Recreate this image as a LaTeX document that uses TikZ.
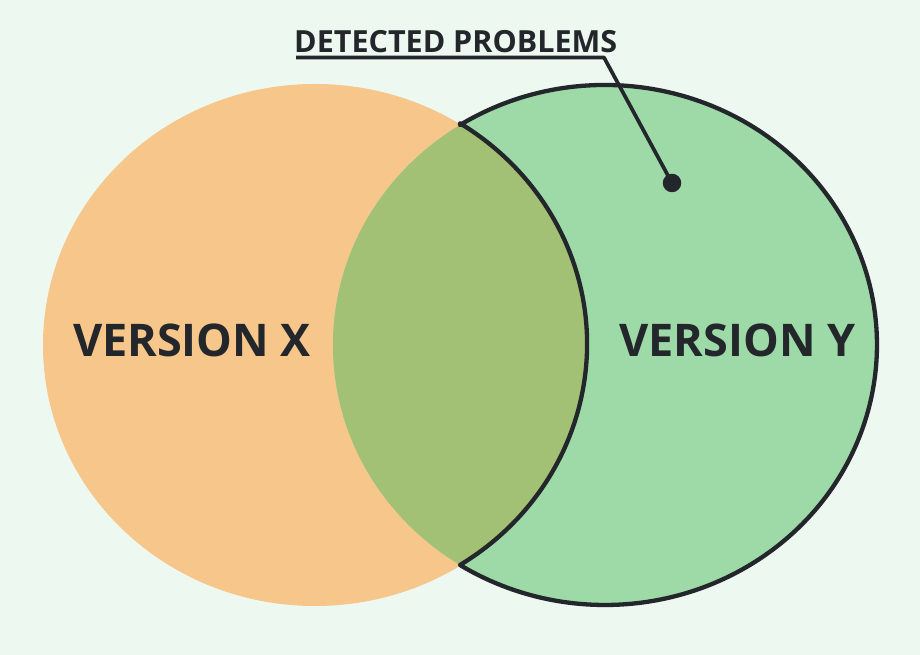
\documentclass[tikz,border=0pt]{standalone}
\usepackage{fontspec}
\setmainfont{Open Sans}
\definecolor{bgmint}{RGB}{237,248,240}
\definecolor{xorange}{RGB}{246,198,138}
\definecolor{ygreen}{RGB}{158,218,168}
\definecolor{xyboth}{RGB}{162,193,117}
\definecolor{ink}{RGB}{35,38,42}

\begin{document}
\begin{tikzpicture}[x=1pt, y=1pt,
        setlabel/.style={font=\bfseries\fontsize{45}{45}\selectfont, text=ink, anchor=base, inner sep=0pt},
        dotmark/.style={circle, fill=ink, minimum size=18.5pt, inner sep=0pt}]
        \fill[bgmint] (0, 0) rectangle (920, 655);
        \useasboundingbox (0, 0) rectangle (920, 655);

        % the two sets
        \fill[xorange] (315, 310) ellipse [x radius=272, y radius=261];
        \fill[ygreen] (605, 310) ellipse [x radius=272, y radius=260];
        \begin{scope}
            \clip (315, 310) ellipse [x radius=272, y radius=261];
            \fill[xyboth] (605, 310) ellipse [x radius=272, y radius=260];
        \end{scope}

        % Y without X
        \draw[ink, line width=4.3pt, line join=round]
            (460, 530) arc [start angle=122.2, end angle=-122.2, x radius=272, y radius=260]
            arc [start angle=-57.8, end angle=57.8, x radius=272, y radius=261] -- cycle;

        \node[setlabel] (verx) at (192, 298) {VERSION X};
        \node[setlabel] (very) at (737.5, 298) {VERSION Y};

        \node[font=\bfseries\fontsize{30.5}{30.5}\selectfont, text=ink, anchor=base west, inner sep=0pt] (title) at (294, 602) {DETECTED PROBLEMS};
        \coordinate (ustart) at (296, 597.5);
        \coordinate (uend) at (604, 597.5);
        \node[dotmark] (dot) at (672, 472) {};
        \draw[ink, line width=3.7pt, line join=round] (ustart) -- (uend) -- (dot.center);
    \end{tikzpicture}
\end{document}
